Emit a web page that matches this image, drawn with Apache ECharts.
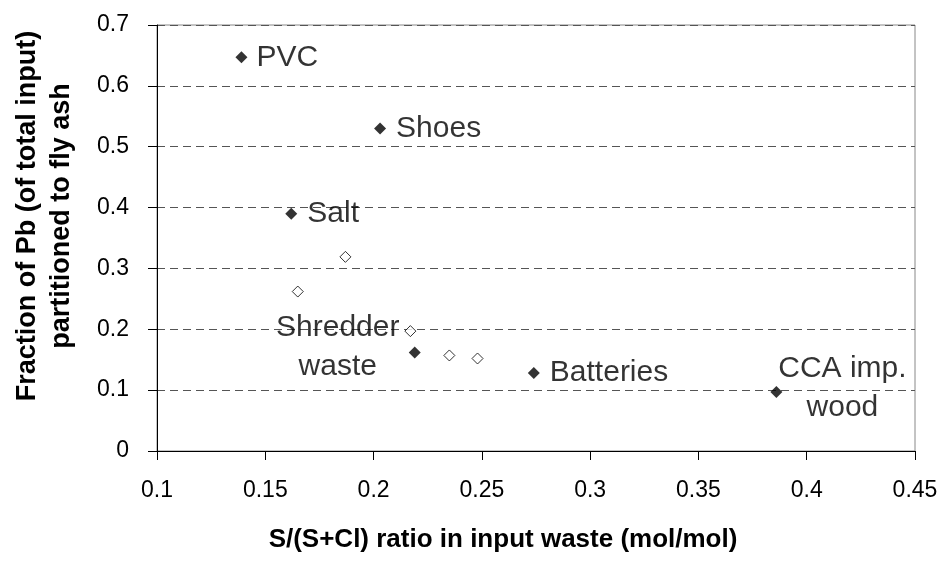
<!DOCTYPE html>
<html lang="en">

<head>
  <meta charset="UTF-8">
  <script src="https://cdn.jsdelivr.net/npm/echarts@6/dist/echarts.min.js"></script>
  <style>
    html, body { margin: 0; padding: 0; background: #fff; }
    #chart { width: 945px; height: 561px; }
  </style>
</head>

<body>
  <div id="chart"></div>
  <script>
    // waste fractions (filled markers, labelled)
    const wasteNames = ['PVC', 'Shoes', 'Salt', 'Shredder\nwaste', 'Batteries', 'CCA imp.\nwood'];
    const wasteX = [0.139, 0.203, 0.162, 0.219, 0.274, 0.386];
    const wasteY = [0.647, 0.530, 0.390, 0.162, 0.128, 0.097];

    // reference runs (open markers)
    const refX = [0.165, 0.187, 0.217, 0.235, 0.248];
    const refY = [0.262, 0.319, 0.197, 0.157, 0.152];

    const xTicks = [0.1, 0.15, 0.2, 0.25, 0.3, 0.35, 0.4, 0.45];
    const yTicks = [0, 0.1, 0.2, 0.3, 0.4, 0.5, 0.6, 0.7];

    const FONT = '"Liberation Sans", Arial, sans-serif';

    // where each label sits relative to its point
    const labelPlace = [
      { position: 'right', distance: 9 },
      { position: 'right', distance: 10 },
      { position: 'right', distance: 10 },
      { position: 'inside', offset: [-77, -5] },
      { position: 'right', distance: 10 },
      { position: 'inside', offset: [66, -4] }
    ];

    const fmt = v => String(+v.toFixed(2));

    var chart = echarts.init(document.getElementById('chart'));
    let option = {
      animation: false,
      grid: {
        left: 157, right: 30, top: 25, bottom: 110,
        show: true,
        borderColor: '#888',
        borderWidth: 1
      },
      xAxis: {
        type: 'value',
        min: xTicks[0],
        max: xTicks[xTicks.length - 1],
        interval: 0.05,
        name: 'S/(S+Cl) ratio in input waste (mol/mol)',
        nameLocation: 'middle',
        nameGap: 76,
        nameTextStyle: {
          color: '#000', fontSize: 26, fontWeight: 'bold', fontFamily: FONT,
          padding: [0, 66, 0, 0]
        },
        axisLine: { onZero: false, lineStyle: { color: '#000', width: 1 } },
        axisTick: { show: true, inside: false, length: 9, lineStyle: { color: '#000' } },
        axisLabel: { color: '#000', fontSize: 23, fontFamily: FONT, margin: 28, formatter: fmt },
        splitLine: { show: false }
      },
      yAxis: {
        type: 'value',
        min: yTicks[0],
        max: yTicks[yTicks.length - 1],
        interval: 0.1,
        name: 'Fraction of Pb (of total input)\npartitioned to fly ash',
        nameLocation: 'middle',
        nameRotate: 90,
        nameGap: 78,
        nameTextStyle: {
          color: '#000', fontSize: 27, fontWeight: 'bold', fontFamily: FONT,
          lineHeight: 34, padding: [0, 0, 0, 44]
        },
        axisLine: { show: true, lineStyle: { color: '#000', width: 1 } },
        axisTick: { show: true, inside: false, length: 9, lineStyle: { color: '#000' } },
        axisLabel: { color: '#000', fontSize: 23, fontFamily: FONT, margin: 28, formatter: fmt },
        splitLine: { show: true, lineStyle: { color: '#555', type: [8, 5], width: 1 } }
      },
      series: [
        {
          type: 'scatter',
          symbol: 'diamond',
          symbolSize: 11,
          itemStyle: { color: '#fff', borderColor: '#000', borderWidth: 1 },
          data: refX.map((x, i) => [x, refY[i]]),
          z: 3
        },
        {
          type: 'scatter',
          symbol: 'diamond',
          symbolSize: 12,
          itemStyle: { color: '#000' },
          label: {
            show: true,
            color: '#000',
            textBorderWidth: 0,
            fontSize: 30,
            fontFamily: FONT,
            lineHeight: 39,
            align: 'center'
          },
          data: wasteX.map((x, i) => ({
            value: [x, wasteY[i]],
            name: wasteNames[i],
            label: Object.assign({ formatter: '{b}', color: '#000' },
              labelPlace[i].position === 'right' ? { align: 'left', verticalAlign: 'middle' } : { align: 'center', verticalAlign: 'middle' },
              labelPlace[i])
          })),
          z: 4
        }
      ]
    };
    chart.setOption(option);
  </script>
</body>

</html>
